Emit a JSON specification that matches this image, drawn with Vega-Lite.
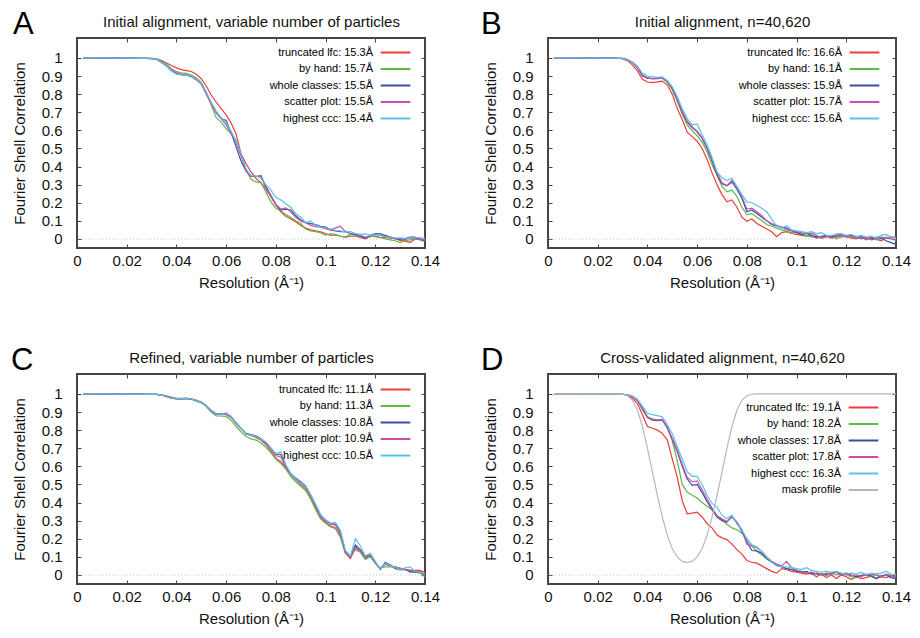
{
"$schema": "https://vega.github.io/schema/vega-lite/v6.json",
"padding": {"left": 10, "top": 7, "right": 5, "bottom": 5},
"background": "white",
"config": {
 "font": "Liberation Sans",
 "view": {"stroke": "#4a4440", "strokeWidth": 2},
 "axis": {"grid": false, "domain": false, "tickSize": -4, "tickColor": "#4a4440", "tickWidth": 1, "labelFont": "Liberation Sans", "labelFontSize": 15, "labelColor": "#111111", "titleFont": "Liberation Sans", "titleFontSize": 15, "titleFontWeight": "normal", "titleColor": "#111111", "labelFlush": false},
 "axisX": {"labelPadding": 9, "titlePadding": 7},
 "axisY": {"labelPadding": 19, "titlePadding": 14},
 "title": {"fontSize": 31, "fontWeight": "normal", "anchor": "start", "frame": "group", "color": "#000000", "font": "Liberation Sans", "baseline": "alphabetic"},
 "legend": {"orient": "none", "legendX": 312, "title": null, "labelFont": "Liberation Sans", "labelFontSize": 11, "labelAlign": "right", "labelOffset": -29, "symbolType": "M-2.7,0H2.7", "symbolSize": 121, "symbolStrokeWidth": 2, "rowPadding": 4.5, "padding": 0, "labelLimit": 300,
  "encode": {"labels": {"update": {"fill": {"signal": "{'r':'#e8262e','g':'#64bd44','b':'#3c4ca6','m':'#cc45a6','c':'#55c6e3','k':'#aaaaaa'}[datum.value]"}}}}}
},
"datasets": {
 "A": [
  {"x":0.0025,"r":1,"g":1,"b":1,"m":1,"c":1},
  {"x":0.01,"r":1,"g":1,"b":1,"m":1,"c":1},
  {"x":0.02,"r":0.999,"g":0.999,"b":0.999,"m":0.999,"c":0.999},
  {"x":0.026,"r":0.998,"g":0.998,"b":0.998,"m":0.998,"c":0.998},
  {"x":0.028,"r":0.998,"g":0.998,"b":0.997,"m":0.997,"c":0.997},
  {"x":0.03,"r":0.998,"g":0.997,"b":0.996,"m":0.996,"c":0.996},
  {"x":0.032,"r":0.995,"g":0.993,"b":0.993,"m":0.993,"c":0.993},
  {"x":0.034,"r":0.985,"g":0.98,"b":0.975,"m":0.975,"c":0.975},
  {"x":0.036,"r":0.972,"g":0.965,"b":0.955,"m":0.958,"c":0.955},
  {"x":0.038,"r":0.958,"g":0.94,"b":0.93,"m":0.935,"c":0.928},
  {"x":0.04,"r":0.945,"g":0.924,"b":0.913,"m":0.917,"c":0.91},
  {"x":0.042,"r":0.935,"g":0.918,"b":0.908,"m":0.91,"c":0.906},
  {"x":0.044,"r":0.93,"g":0.915,"b":0.905,"m":0.907,"c":0.905},
  {"x":0.046,"r":0.925,"g":0.905,"b":0.897,"m":0.897,"c":0.9},
  {"x":0.048,"r":0.91,"g":0.89,"b":0.88,"m":0.88,"c":0.885},
  {"x":0.05,"r":0.885,"g":0.865,"b":0.855,"m":0.855,"c":0.858},
  {"x":0.052,"r":0.845,"g":0.81,"b":0.805,"m":0.8,"c":0.81},
  {"x":0.054,"r":0.795,"g":0.74,"b":0.75,"m":0.745,"c":0.755},
  {"x":0.056,"r":0.755,"g":0.67,"b":0.7,"m":0.695,"c":0.705},
  {"x":0.058,"r":0.72,"g":0.645,"b":0.665,"m":0.665,"c":0.67},
  {"x":0.06,"r":0.685,"g":0.61,"b":0.655,"m":0.63,"c":0.64},
  {"x":0.062,"r":0.64,"g":0.58,"b":0.585,"m":0.585,"c":0.595},
  {"x":0.064,"r":0.58,"g":0.545,"b":0.51,"m":0.53,"c":0.54},
  {"x":0.066,"r":0.47,"g":0.46,"b":0.43,"m":0.46,"c":0.47},
  {"x":0.068,"r":0.415,"g":0.385,"b":0.375,"m":0.38,"c":0.385},
  {"x":0.07,"r":0.37,"g":0.33,"b":0.345,"m":0.348,"c":0.35},
  {"x":0.072,"r":0.335,"g":0.315,"b":0.345,"m":0.345,"c":0.348},
  {"x":0.074,"r":0.31,"g":0.31,"b":0.35,"m":0.345,"c":0.335},
  {"x":0.076,"r":0.275,"g":0.26,"b":0.29,"m":0.28,"c":0.3},
  {"x":0.078,"r":0.235,"g":0.205,"b":0.24,"m":0.235,"c":0.27},
  {"x":0.08,"r":0.19,"g":0.17,"b":0.19,"m":0.19,"c":0.23},
  {"x":0.082,"r":0.15,"g":0.155,"b":0.16,"m":0.165,"c":0.215},
  {"x":0.084,"r":0.125,"g":0.135,"b":0.165,"m":0.172,"c":0.195},
  {"x":0.086,"r":0.11,"g":0.12,"b":0.16,"m":0.15,"c":0.175},
  {"x":0.088,"r":0.095,"g":0.1,"b":0.128,"m":0.12,"c":0.14},
  {"x":0.09,"r":0.075,"g":0.085,"b":0.105,"m":0.1,"c":0.12},
  {"x":0.092,"r":0.06,"g":0.055,"b":0.09,"m":0.09,"c":0.09},
  {"x":0.094,"r":0.05,"g":0.045,"b":0.085,"m":0.075,"c":0.1},
  {"x":0.096,"r":0.045,"g":0.04,"b":0.08,"m":0.068,"c":0.075},
  {"x":0.098,"r":0.04,"g":0.035,"b":0.07,"m":0.065,"c":0.065},
  {"x":0.1,"r":0.03,"g":0.02,"b":0.065,"m":0.055,"c":0.062},
  {"x":0.102,"r":0.02,"g":0.03,"b":0.05,"m":0.05,"c":0.055},
  {"x":0.104,"r":0.022,"g":0.025,"b":0.044,"m":0.06,"c":0.048},
  {"x":0.106,"r":0.015,"g":0.015,"b":0.04,"m":0.07,"c":0.045},
  {"x":0.108,"r":0.01,"g":0.01,"b":0.04,"m":0.04,"c":0.038},
  {"x":0.11,"r":0.015,"g":0.025,"b":0.03,"m":0.03,"c":0.04},
  {"x":0.112,"r":0.015,"g":0.02,"b":0.025,"m":0.028,"c":0.03},
  {"x":0.114,"r":0.008,"g":0.01,"b":0.015,"m":0.02,"c":0.025},
  {"x":0.116,"r":0,"g":0.004,"b":0.004,"m":0.01,"c":0.028},
  {"x":0.118,"r":0.015,"g":0.012,"b":0.02,"m":0.015,"c":0.02},
  {"x":0.12,"r":0.012,"g":0.018,"b":0.03,"m":0.025,"c":0.025},
  {"x":0.122,"r":0.008,"g":0.008,"b":0.028,"m":0.02,"c":0.02},
  {"x":0.124,"r":0.01,"g":0,"b":0.02,"m":0.015,"c":0.012},
  {"x":0.126,"r":0.005,"g":-0.005,"b":0.01,"m":0.01,"c":0.008},
  {"x":0.128,"r":0.002,"g":-0.01,"b":0.002,"m":0.005,"c":0.005},
  {"x":0.13,"r":-0.008,"g":-0.02,"b":-0.002,"m":0.002,"c":0.006},
  {"x":0.132,"r":-0.012,"g":-0.01,"b":0.002,"m":-0.004,"c":0.003},
  {"x":0.134,"r":-0.02,"g":-0.005,"b":0.01,"m":0.006,"c":0.006},
  {"x":0.136,"r":0,"g":0,"b":0.01,"m":0.002,"c":0.008},
  {"x":0.138,"r":0,"g":-0.005,"b":0,"m":-0.004,"c":0.006},
  {"x":0.14,"r":-0.004,"g":-0.007,"b":-0.015,"m":-0.007,"c":0.004}
 ],
 "B": [
  {"x":0.0025,"r":1,"g":1,"b":1,"m":1,"c":1},
  {"x":0.01,"r":1,"g":1,"b":1,"m":1,"c":1},
  {"x":0.02,"r":0.999,"g":0.999,"b":0.999,"m":0.999,"c":0.999},
  {"x":0.026,"r":0.999,"g":0.999,"b":0.999,"m":0.999,"c":0.999},
  {"x":0.028,"r":0.998,"g":0.998,"b":0.998,"m":0.998,"c":0.998},
  {"x":0.03,"r":0.995,"g":0.997,"b":0.997,"m":0.997,"c":0.997},
  {"x":0.032,"r":0.985,"g":0.99,"b":0.99,"m":0.99,"c":0.99},
  {"x":0.034,"r":0.96,"g":0.975,"b":0.975,"m":0.975,"c":0.978},
  {"x":0.036,"r":0.928,"g":0.947,"b":0.947,"m":0.947,"c":0.955},
  {"x":0.038,"r":0.882,"g":0.905,"b":0.9,"m":0.905,"c":0.915},
  {"x":0.04,"r":0.867,"g":0.888,"b":0.888,"m":0.89,"c":0.9},
  {"x":0.042,"r":0.864,"g":0.886,"b":0.885,"m":0.886,"c":0.895},
  {"x":0.044,"r":0.868,"g":0.887,"b":0.886,"m":0.888,"c":0.892},
  {"x":0.046,"r":0.872,"g":0.888,"b":0.89,"m":0.89,"c":0.895},
  {"x":0.048,"r":0.85,"g":0.865,"b":0.87,"m":0.87,"c":0.875},
  {"x":0.05,"r":0.8,"g":0.825,"b":0.83,"m":0.835,"c":0.84},
  {"x":0.052,"r":0.72,"g":0.76,"b":0.77,"m":0.775,"c":0.785},
  {"x":0.054,"r":0.66,"g":0.69,"b":0.7,"m":0.705,"c":0.72},
  {"x":0.056,"r":0.59,"g":0.63,"b":0.645,"m":0.65,"c":0.665},
  {"x":0.058,"r":0.565,"g":0.598,"b":0.615,"m":0.62,"c":0.63},
  {"x":0.06,"r":0.54,"g":0.57,"b":0.592,"m":0.595,"c":0.635},
  {"x":0.062,"r":0.5,"g":0.535,"b":0.555,"m":0.56,"c":0.575},
  {"x":0.064,"r":0.44,"g":0.48,"b":0.5,"m":0.505,"c":0.52},
  {"x":0.066,"r":0.365,"g":0.41,"b":0.43,"m":0.44,"c":0.45},
  {"x":0.068,"r":0.3,"g":0.35,"b":0.355,"m":0.365,"c":0.37},
  {"x":0.07,"r":0.245,"g":0.29,"b":0.305,"m":0.31,"c":0.338},
  {"x":0.072,"r":0.205,"g":0.26,"b":0.293,"m":0.295,"c":0.322},
  {"x":0.074,"r":0.215,"g":0.27,"b":0.315,"m":0.325,"c":0.335},
  {"x":0.076,"r":0.175,"g":0.235,"b":0.275,"m":0.29,"c":0.29},
  {"x":0.078,"r":0.12,"g":0.175,"b":0.225,"m":0.235,"c":0.245},
  {"x":0.08,"r":0.098,"g":0.135,"b":0.15,"m":0.165,"c":0.205},
  {"x":0.082,"r":0.11,"g":0.14,"b":0.16,"m":0.17,"c":0.2},
  {"x":0.084,"r":0.085,"g":0.12,"b":0.14,"m":0.15,"c":0.185},
  {"x":0.086,"r":0.07,"g":0.1,"b":0.12,"m":0.13,"c":0.17},
  {"x":0.088,"r":0.055,"g":0.08,"b":0.1,"m":0.1,"c":0.15},
  {"x":0.09,"r":0.04,"g":0.07,"b":0.08,"m":0.085,"c":0.11},
  {"x":0.092,"r":0.012,"g":0.06,"b":0.07,"m":0.075,"c":0.07},
  {"x":0.094,"r":0.035,"g":0.05,"b":0.065,"m":0.065,"c":0.06},
  {"x":0.096,"r":0.04,"g":0.042,"b":0.06,"m":0.05,"c":0.072},
  {"x":0.098,"r":0.03,"g":0.035,"b":0.045,"m":0.045,"c":0.05},
  {"x":0.1,"r":0.025,"g":0.04,"b":0.035,"m":0.04,"c":0.045},
  {"x":0.102,"r":0.02,"g":0.025,"b":0.025,"m":0.035,"c":0.04},
  {"x":0.104,"r":0.015,"g":0.02,"b":0.03,"m":0.03,"c":0.035},
  {"x":0.106,"r":0.02,"g":0.01,"b":0.02,"m":0.032,"c":0.04},
  {"x":0.108,"r":0.005,"g":0.015,"b":0.01,"m":0.02,"c":0.03},
  {"x":0.11,"r":0.01,"g":0.005,"b":0.015,"m":0.005,"c":0.035},
  {"x":0.112,"r":0.015,"g":0.01,"b":0.02,"m":0.012,"c":0.02},
  {"x":0.114,"r":0.005,"g":0.02,"b":0.01,"m":0.02,"c":0.018},
  {"x":0.116,"r":0.01,"g":0,"b":0.02,"m":0.015,"c":0.03},
  {"x":0.118,"r":0.018,"g":0.01,"b":0.025,"m":0.02,"c":0.028},
  {"x":0.12,"r":0.012,"g":0.015,"b":0.015,"m":0.01,"c":0.02},
  {"x":0.122,"r":0.005,"g":0.01,"b":0.02,"m":0.015,"c":0.025},
  {"x":0.124,"r":0,"g":0.005,"b":0.008,"m":0.01,"c":0.015},
  {"x":0.126,"r":0.01,"g":0.01,"b":0.012,"m":0,"c":0.02},
  {"x":0.128,"r":-0.005,"g":0,"b":0.005,"m":0.008,"c":0.01},
  {"x":0.13,"r":0.01,"g":0.005,"b":0,"m":-0.005,"c":0.015},
  {"x":0.132,"r":0,"g":-0.005,"b":0.01,"m":0,"c":0.005},
  {"x":0.134,"r":-0.01,"g":0,"b":0.005,"m":0.01,"c":0.02},
  {"x":0.136,"r":0.005,"g":0.01,"b":-0.01,"m":0.005,"c":0.025},
  {"x":0.138,"r":0.01,"g":0.005,"b":-0.02,"m":0,"c":0.01},
  {"x":0.14,"r":0.01,"g":-0.01,"b":-0.03,"m":-0.005,"c":0.005}
 ],
 "C": [
  {"x":0.0025,"r":1,"g":1,"b":1,"m":1,"c":1},
  {"x":0.01,"r":1,"g":1,"b":1,"m":1,"c":1},
  {"x":0.02,"r":0.999,"g":0.999,"b":0.999,"m":0.999,"c":0.999},
  {"x":0.026,"r":0.999,"g":0.999,"b":0.999,"m":0.999,"c":0.999},
  {"x":0.028,"r":0.998,"g":0.998,"b":0.998,"m":0.998,"c":0.998},
  {"x":0.03,"r":0.998,"g":0.998,"b":0.998,"m":0.998,"c":0.998},
  {"x":0.032,"r":0.997,"g":0.997,"b":0.997,"m":0.997,"c":0.997},
  {"x":0.034,"r":0.995,"g":0.993,"b":0.993,"m":0.993,"c":0.993},
  {"x":0.036,"r":0.99,"g":0.988,"b":0.985,"m":0.987,"c":0.987},
  {"x":0.038,"r":0.982,"g":0.98,"b":0.976,"m":0.978,"c":0.978},
  {"x":0.04,"r":0.976,"g":0.975,"b":0.972,"m":0.973,"c":0.974},
  {"x":0.042,"r":0.975,"g":0.973,"b":0.973,"m":0.974,"c":0.974},
  {"x":0.044,"r":0.976,"g":0.974,"b":0.975,"m":0.975,"c":0.975},
  {"x":0.046,"r":0.973,"g":0.97,"b":0.972,"m":0.972,"c":0.972},
  {"x":0.048,"r":0.965,"g":0.96,"b":0.963,"m":0.963,"c":0.963},
  {"x":0.05,"r":0.955,"g":0.952,"b":0.952,"m":0.953,"c":0.953},
  {"x":0.052,"r":0.935,"g":0.93,"b":0.935,"m":0.933,"c":0.935},
  {"x":0.054,"r":0.91,"g":0.9,"b":0.905,"m":0.905,"c":0.908},
  {"x":0.056,"r":0.89,"g":0.878,"b":0.887,"m":0.885,"c":0.888},
  {"x":0.058,"r":0.89,"g":0.878,"b":0.888,"m":0.888,"c":0.888},
  {"x":0.06,"r":0.885,"g":0.875,"b":0.893,"m":0.89,"c":0.895},
  {"x":0.062,"r":0.87,"g":0.855,"b":0.875,"m":0.872,"c":0.875},
  {"x":0.064,"r":0.84,"g":0.82,"b":0.84,"m":0.835,"c":0.84},
  {"x":0.066,"r":0.81,"g":0.79,"b":0.81,"m":0.807,"c":0.81},
  {"x":0.068,"r":0.78,"g":0.765,"b":0.782,"m":0.778,"c":0.78},
  {"x":0.07,"r":0.77,"g":0.752,"b":0.775,"m":0.772,"c":0.772},
  {"x":0.072,"r":0.76,"g":0.745,"b":0.768,"m":0.765,"c":0.765},
  {"x":0.074,"r":0.745,"g":0.73,"b":0.752,"m":0.75,"c":0.75},
  {"x":0.076,"r":0.72,"g":0.705,"b":0.73,"m":0.728,"c":0.735},
  {"x":0.078,"r":0.685,"g":0.675,"b":0.7,"m":0.695,"c":0.7},
  {"x":0.08,"r":0.645,"g":0.638,"b":0.668,"m":0.66,"c":0.67},
  {"x":0.082,"r":0.625,"g":0.615,"b":0.665,"m":0.65,"c":0.68},
  {"x":0.084,"r":0.595,"g":0.585,"b":0.6,"m":0.6,"c":0.61},
  {"x":0.086,"r":0.55,"g":0.545,"b":0.56,"m":0.558,"c":0.56},
  {"x":0.088,"r":0.525,"g":0.515,"b":0.535,"m":0.53,"c":0.53},
  {"x":0.09,"r":0.5,"g":0.49,"b":0.515,"m":0.51,"c":0.51},
  {"x":0.092,"r":0.475,"g":0.465,"b":0.49,"m":0.487,"c":0.487},
  {"x":0.094,"r":0.425,"g":0.42,"b":0.44,"m":0.44,"c":0.445},
  {"x":0.096,"r":0.37,"g":0.36,"b":0.385,"m":0.38,"c":0.39},
  {"x":0.098,"r":0.315,"g":0.31,"b":0.33,"m":0.325,"c":0.335},
  {"x":0.1,"r":0.29,"g":0.285,"b":0.3,"m":0.298,"c":0.305},
  {"x":0.102,"r":0.27,"g":0.265,"b":0.285,"m":0.28,"c":0.285},
  {"x":0.104,"r":0.26,"g":0.255,"b":0.28,"m":0.275,"c":0.29},
  {"x":0.106,"r":0.215,"g":0.205,"b":0.235,"m":0.228,"c":0.245},
  {"x":0.108,"r":0.12,"g":0.118,"b":0.128,"m":0.125,"c":0.135},
  {"x":0.11,"r":0.09,"g":0.1,"b":0.1,"m":0.098,"c":0.105},
  {"x":0.112,"r":0.15,"g":0.14,"b":0.165,"m":0.155,"c":0.2},
  {"x":0.114,"r":0.13,"g":0.125,"b":0.14,"m":0.135,"c":0.16},
  {"x":0.116,"r":0.09,"g":0.085,"b":0.1,"m":0.095,"c":0.105},
  {"x":0.118,"r":0.105,"g":0.1,"b":0.115,"m":0.11,"c":0.12},
  {"x":0.12,"r":0.065,"g":0.065,"b":0.07,"m":0.068,"c":0.075},
  {"x":0.122,"r":0.035,"g":0.04,"b":0.03,"m":0.035,"c":0.035},
  {"x":0.124,"r":0.06,"g":0.045,"b":0.07,"m":0.06,"c":0.065},
  {"x":0.126,"r":0.05,"g":0.045,"b":0.055,"m":0.05,"c":0.05},
  {"x":0.128,"r":0.045,"g":0.045,"b":0.035,"m":0.04,"c":0.04},
  {"x":0.13,"r":0.038,"g":0.035,"b":0.028,"m":0.03,"c":0.028},
  {"x":0.132,"r":0.032,"g":0.03,"b":0.03,"m":0.03,"c":0.04},
  {"x":0.134,"r":0.025,"g":0.015,"b":0.02,"m":0.025,"c":0.045},
  {"x":0.136,"r":0.025,"g":0.015,"b":0.015,"m":0.02,"c":0.02},
  {"x":0.138,"r":0.025,"g":0.01,"b":0.015,"m":0.018,"c":0.015},
  {"x":0.14,"r":0.015,"g":-0.012,"b":0,"m":0.005,"c":0.005}
 ],
 "D": [
  {"x":0.0025,"r":1,"g":1,"b":1,"m":1,"c":1,"k":1},
  {"x":0.01,"r":1,"g":1,"b":1,"m":1,"c":1,"k":1},
  {"x":0.02,"r":0.999,"g":0.999,"b":0.999,"m":0.999,"c":0.999,"k":1},
  {"x":0.026,"r":0.999,"g":0.999,"b":0.999,"m":0.999,"c":0.999,"k":1},
  {"x":0.028,"r":0.999,"g":0.999,"b":0.999,"m":0.999,"c":0.999,"k":1},
  {"x":0.03,"r":0.998,"g":0.998,"b":0.998,"m":0.998,"c":0.998,"k":0.998},
  {"x":0.032,"r":0.993,"g":0.995,"b":0.995,"m":0.995,"c":0.995,"k":0.99},
  {"x":0.034,"r":0.975,"g":0.985,"b":0.985,"m":0.985,"c":0.987,"k":0.965},
  {"x":0.036,"r":0.945,"g":0.967,"b":0.962,"m":0.962,"c":0.97,"k":0.91},
  {"x":0.038,"r":0.885,"g":0.912,"b":0.92,"m":0.922,"c":0.933,"k":0.82},
  {"x":0.04,"r":0.82,"g":0.874,"b":0.869,"m":0.872,"c":0.893,"k":0.7},
  {"x":0.042,"r":0.81,"g":0.862,"b":0.855,"m":0.858,"c":0.886,"k":0.57},
  {"x":0.044,"r":0.8,"g":0.857,"b":0.852,"m":0.855,"c":0.88,"k":0.44},
  {"x":0.046,"r":0.782,"g":0.856,"b":0.856,"m":0.86,"c":0.874,"k":0.32},
  {"x":0.048,"r":0.745,"g":0.82,"b":0.81,"m":0.815,"c":0.83,"k":0.22},
  {"x":0.05,"r":0.64,"g":0.74,"b":0.75,"m":0.755,"c":0.78,"k":0.145},
  {"x":0.052,"r":0.54,"g":0.63,"b":0.68,"m":0.69,"c":0.71,"k":0.1},
  {"x":0.054,"r":0.41,"g":0.5,"b":0.6,"m":0.61,"c":0.64,"k":0.075},
  {"x":0.056,"r":0.338,"g":0.458,"b":0.53,"m":0.54,"c":0.57,"k":0.068},
  {"x":0.058,"r":0.342,"g":0.44,"b":0.495,"m":0.515,"c":0.545,"k":0.075},
  {"x":0.06,"r":0.347,"g":0.425,"b":0.5,"m":0.52,"c":0.545,"k":0.1},
  {"x":0.062,"r":0.32,"g":0.4,"b":0.455,"m":0.47,"c":0.5,"k":0.145},
  {"x":0.064,"r":0.283,"g":0.38,"b":0.405,"m":0.42,"c":0.44,"k":0.22},
  {"x":0.066,"r":0.26,"g":0.36,"b":0.36,"m":0.37,"c":0.395,"k":0.32},
  {"x":0.068,"r":0.22,"g":0.33,"b":0.32,"m":0.325,"c":0.375,"k":0.44},
  {"x":0.07,"r":0.205,"g":0.305,"b":0.3,"m":0.31,"c":0.33,"k":0.57},
  {"x":0.072,"r":0.195,"g":0.28,"b":0.292,"m":0.295,"c":0.31,"k":0.7},
  {"x":0.074,"r":0.17,"g":0.26,"b":0.325,"m":0.32,"c":0.33,"k":0.82},
  {"x":0.076,"r":0.14,"g":0.25,"b":0.29,"m":0.29,"c":0.28,"k":0.91},
  {"x":0.078,"r":0.115,"g":0.23,"b":0.24,"m":0.25,"c":0.25,"k":0.965},
  {"x":0.08,"r":0.08,"g":0.2,"b":0.185,"m":0.17,"c":0.2,"k":0.99},
  {"x":0.082,"r":0.07,"g":0.16,"b":0.135,"m":0.16,"c":0.166,"k":0.998},
  {"x":0.084,"r":0.065,"g":0.13,"b":0.133,"m":0.15,"c":0.155,"k":1},
  {"x":0.086,"r":0.05,"g":0.11,"b":0.12,"m":0.13,"c":0.13,"k":1},
  {"x":0.088,"r":0.035,"g":0.09,"b":0.09,"m":0.1,"c":0.1,"k":1},
  {"x":0.09,"r":0.02,"g":0.07,"b":0.07,"m":0.075,"c":0.07,"k":1},
  {"x":0.092,"r":0.01,"g":0.055,"b":0.055,"m":0.06,"c":0.05,"k":1},
  {"x":0.094,"r":0.035,"g":0.045,"b":0.045,"m":0.05,"c":0.045,"k":1},
  {"x":0.096,"r":0.03,"g":0.035,"b":0.035,"m":0.075,"c":0.045,"k":1},
  {"x":0.098,"r":0.02,"g":0.03,"b":0.03,"m":0.04,"c":0.04,"k":1},
  {"x":0.1,"r":0.015,"g":0.025,"b":0.02,"m":0.025,"c":0.035,"k":1},
  {"x":0.102,"r":0.01,"g":0.02,"b":0.015,"m":0.015,"c":0.03,"k":1},
  {"x":0.104,"r":0.005,"g":0.015,"b":0.02,"m":0.01,"c":0.04,"k":1},
  {"x":0.106,"r":0.01,"g":0.01,"b":0.005,"m":0.015,"c":0.025,"k":1},
  {"x":0.108,"r":-0.01,"g":0.005,"b":0.01,"m":0.005,"c":0.02,"k":1},
  {"x":0.11,"r":0.005,"g":0.01,"b":0,"m":0,"c":0.015,"k":1},
  {"x":0.112,"r":-0.015,"g":-0.005,"b":0.005,"m":0.01,"c":0.02,"k":1},
  {"x":0.114,"r":0,"g":0.01,"b":0.01,"m":0.005,"c":0.015,"k":1},
  {"x":0.116,"r":-0.02,"g":0,"b":0.015,"m":0.015,"c":0.02,"k":1},
  {"x":0.118,"r":0,"g":0.005,"b":0.005,"m":0,"c":0.01,"k":1},
  {"x":0.12,"r":-0.01,"g":0,"b":0.01,"m":0.005,"c":0.005,"k":1},
  {"x":0.122,"r":-0.025,"g":-0.01,"b":0,"m":-0.005,"c":0.01,"k":1},
  {"x":0.124,"r":-0.01,"g":-0.015,"b":-0.01,"m":0,"c":0.005,"k":1},
  {"x":0.126,"r":-0.02,"g":0,"b":-0.005,"m":-0.01,"c":0.015,"k":1},
  {"x":0.128,"r":-0.015,"g":0.005,"b":0,"m":0.005,"c":0,"k":1},
  {"x":0.13,"r":-0.005,"g":-0.01,"b":-0.005,"m":0,"c":0.01,"k":1},
  {"x":0.132,"r":-0.02,"g":0,"b":-0.02,"m":0.005,"c":0.005,"k":1},
  {"x":0.134,"r":-0.01,"g":-0.015,"b":-0.005,"m":-0.01,"c":0.01,"k":1},
  {"x":0.136,"r":-0.015,"g":0.005,"b":0,"m":0,"c":0.02,"k":1},
  {"x":0.138,"r":-0.005,"g":0,"b":-0.015,"m":-0.005,"c":0.005,"k":1},
  {"x":0.14,"r":-0.005,"g":-0.02,"b":-0.02,"m":-0.01,"c":0,"k":1}
 ]
},
"bounds": "flush",
"columns": 2,
"spacing": {"row": 126, "column": 123},
"concat": [
  {"width": 348, "height": 210,
   "title": {"text": "A", "dx": -64, "dy": 30},
   "data": {"name": "A"},
   "layer": [
    {"data": {"values": [{}]}, "mark": {"type": "rule", "color": "#b4c4d4", "strokeDash": [1, 2], "strokeWidth": 1}, "encoding": {"y": {"datum": 0, "type": "quantitative", "scale": {"domain": [-0.05, 1.11], "nice": false, "zero": false}, "axis": null}}},
    {"transform": [{"fold": ["r", "g", "b", "m", "c"], "as": ["s", "v"]}],
     "mark": {"type": "line", "strokeWidth": 1.2},
     "encoding": {
      "x": {"field": "x", "type": "quantitative", "scale": {"domain": [0, 0.14], "nice": false, "zero": false}, "axis": {"orient": "bottom", "values": [0, 0.02, 0.04, 0.06, 0.08, 0.1, 0.12, 0.14], "format": ".2~f", "title": "Resolution (Å⁻¹)"}},
      "y": {"field": "v", "type": "quantitative", "scale": {"domain": [-0.05, 1.11], "nice": false, "zero": false}, "axis": {"orient": "left", "values": [0, 0.1, 0.2, 0.3, 0.4, 0.5, 0.6, 0.7, 0.8, 0.9, 1], "format": ".1~f", "title": "Fourier Shell Correlation"}},
      "color": {"field": "s", "type": "nominal", "scale": {"domain": ["r", "g", "b", "m", "c"], "range": ["#ee3b3b", "#5dbb45", "#3b4ea6", "#cc4fae", "#56c4e2"]},
       "legend": {"legendY": 8, "labelExpr": "{'r':'truncated lfc: 15.3Å','g':'by hand: 15.7Å','b':'whole classes: 15.5Å','m':'scatter plot: 15.5Å','c':'highest ccc: 15.4Å'}[datum.value]"}}
     }},
    {"mark": {"type": "line", "opacity": 0},
     "encoding": {
      "x": {"field": "x", "type": "quantitative", "scale": {"domain": [0, 0.14], "nice": false, "zero": false}, "axis": {"orient": "top", "values": [0, 0.02, 0.04, 0.06, 0.08, 0.1, 0.12, 0.14], "labels": false, "title": "Initial alignment, variable number of particles", "titlePadding": 8}},
      "y": {"field": "r", "type": "quantitative", "scale": {"domain": [-0.05, 1.11], "nice": false, "zero": false}, "axis": {"orient": "right", "values": [0, 0.1, 0.2, 0.3, 0.4, 0.5, 0.6, 0.7, 0.8, 0.9, 1], "labels": false, "title": null}}
     }}
   ],
   "resolve": {"axis": {"x": "independent", "y": "independent"}}
  },
  {"width": 348, "height": 210,
   "title": {"text": "B", "dx": -67, "dy": 30},
   "data": {"name": "B"},
   "layer": [
    {"data": {"values": [{}]}, "mark": {"type": "rule", "color": "#b4c4d4", "strokeDash": [1, 2], "strokeWidth": 1}, "encoding": {"y": {"datum": 0, "type": "quantitative", "scale": {"domain": [-0.05, 1.11], "nice": false, "zero": false}, "axis": null}}},
    {"transform": [{"fold": ["r", "g", "b", "m", "c"], "as": ["s", "v"]}],
     "mark": {"type": "line", "strokeWidth": 1.2},
     "encoding": {
      "x": {"field": "x", "type": "quantitative", "scale": {"domain": [0, 0.14], "nice": false, "zero": false}, "axis": {"orient": "bottom", "values": [0, 0.02, 0.04, 0.06, 0.08, 0.1, 0.12, 0.14], "format": ".2~f", "title": "Resolution (Å⁻¹)"}},
      "y": {"field": "v", "type": "quantitative", "scale": {"domain": [-0.05, 1.11], "nice": false, "zero": false}, "axis": {"orient": "left", "values": [0, 0.1, 0.2, 0.3, 0.4, 0.5, 0.6, 0.7, 0.8, 0.9, 1], "format": ".1~f", "title": "Fourier Shell Correlation"}},
      "color": {"field": "s", "type": "nominal", "scale": {"domain": ["r", "g", "b", "m", "c"], "range": ["#ee3b3b", "#5dbb45", "#3b4ea6", "#cc4fae", "#56c4e2"]},
       "legend": {"legendY": 8, "legendX": 310, "labelExpr": "{'r':'truncated lfc: 16.6Å','g':'by hand: 16.1Å','b':'whole classes: 15.9Å','m':'scatter plot: 15.7Å','c':'highest ccc: 15.6Å'}[datum.value]"}}
     }},
    {"mark": {"type": "line", "opacity": 0},
     "encoding": {
      "x": {"field": "x", "type": "quantitative", "scale": {"domain": [0, 0.14], "nice": false, "zero": false}, "axis": {"orient": "top", "values": [0, 0.02, 0.04, 0.06, 0.08, 0.1, 0.12, 0.14], "labels": false, "title": "Initial alignment, n=40,620", "titlePadding": 8}},
      "y": {"field": "r", "type": "quantitative", "scale": {"domain": [-0.05, 1.11], "nice": false, "zero": false}, "axis": {"orient": "right", "values": [0, 0.1, 0.2, 0.3, 0.4, 0.5, 0.6, 0.7, 0.8, 0.9, 1], "labels": false, "title": null}}
     }}
   ],
   "resolve": {"axis": {"x": "independent", "y": "independent"}}
  },
  {"width": 348, "height": 210,
   "title": {"text": "C", "dx": -66, "dy": 30},
   "data": {"name": "C"},
   "layer": [
    {"data": {"values": [{}]}, "mark": {"type": "rule", "color": "#b4c4d4", "strokeDash": [1, 2], "strokeWidth": 1}, "encoding": {"y": {"datum": 0, "type": "quantitative", "scale": {"domain": [-0.05, 1.11], "nice": false, "zero": false}, "axis": null}}},
    {"transform": [{"fold": ["r", "g", "b", "m", "c"], "as": ["s", "v"]}],
     "mark": {"type": "line", "strokeWidth": 1.2},
     "encoding": {
      "x": {"field": "x", "type": "quantitative", "scale": {"domain": [0, 0.14], "nice": false, "zero": false}, "axis": {"orient": "bottom", "values": [0, 0.02, 0.04, 0.06, 0.08, 0.1, 0.12, 0.14], "format": ".2~f", "title": "Resolution (Å⁻¹)"}},
      "y": {"field": "v", "type": "quantitative", "scale": {"domain": [-0.05, 1.11], "nice": false, "zero": false}, "axis": {"orient": "left", "values": [0, 0.1, 0.2, 0.3, 0.4, 0.5, 0.6, 0.7, 0.8, 0.9, 1], "format": ".1~f", "title": "Fourier Shell Correlation"}},
      "color": {"field": "s", "type": "nominal", "scale": {"domain": ["r", "g", "b", "m", "c"], "range": ["#ee3b3b", "#5dbb45", "#3b4ea6", "#cc4fae", "#56c4e2"]},
       "legend": {"legendY": 9, "labelExpr": "{'r':'truncated lfc: 11.1Å','g':'by hand: 11.3Å','b':'whole classes: 10.8Å','m':'scatter plot: 10.9Å','c':'highest ccc: 10.5Å'}[datum.value]"}}
     }},
    {"mark": {"type": "line", "opacity": 0},
     "encoding": {
      "x": {"field": "x", "type": "quantitative", "scale": {"domain": [0, 0.14], "nice": false, "zero": false}, "axis": {"orient": "top", "values": [0, 0.02, 0.04, 0.06, 0.08, 0.1, 0.12, 0.14], "labels": false, "title": "Refined, variable number of particles", "titlePadding": 8}},
      "y": {"field": "r", "type": "quantitative", "scale": {"domain": [-0.05, 1.11], "nice": false, "zero": false}, "axis": {"orient": "right", "values": [0, 0.1, 0.2, 0.3, 0.4, 0.5, 0.6, 0.7, 0.8, 0.9, 1], "labels": false, "title": null}}
     }}
   ],
   "resolve": {"axis": {"x": "independent", "y": "independent"}}
  },
  {"width": 348, "height": 210,
   "title": {"text": "D", "dx": -67, "dy": 30},
   "data": {"name": "D"},
   "layer": [
    {"data": {"values": [{}]}, "mark": {"type": "rule", "color": "#b4c4d4", "strokeDash": [1, 2], "strokeWidth": 1}, "encoding": {"y": {"datum": 0, "type": "quantitative", "scale": {"domain": [-0.05, 1.11], "nice": false, "zero": false}, "axis": null}}},
    {"transform": [{"fold": ["r", "g", "b", "m", "c", "k"], "as": ["s", "v"]}],
     "mark": {"type": "line", "strokeWidth": 1.2},
     "encoding": {
      "x": {"field": "x", "type": "quantitative", "scale": {"domain": [0, 0.14], "nice": false, "zero": false}, "axis": {"orient": "bottom", "values": [0, 0.02, 0.04, 0.06, 0.08, 0.1, 0.12, 0.14], "format": ".2~f", "title": "Resolution (Å⁻¹)"}},
      "y": {"field": "v", "type": "quantitative", "scale": {"domain": [-0.05, 1.11], "nice": false, "zero": false}, "axis": {"orient": "left", "values": [0, 0.1, 0.2, 0.3, 0.4, 0.5, 0.6, 0.7, 0.8, 0.9, 1], "format": ".1~f", "title": "Fourier Shell Correlation"}},
      "color": {"field": "s", "type": "nominal", "scale": {"domain": ["r", "g", "b", "m", "c", "k"], "range": ["#ee3b3b", "#5dbb45", "#3b4ea6", "#cc4fae", "#56c4e2", "#b8b8b8"]},
       "legend": {"legendY": 27, "legendX": 309, "labelExpr": "{'r':'truncated lfc: 19.1Å','g':'by hand: 18.2Å','b':'whole classes: 17.8Å','m':'scatter plot: 17.8Å','c':'highest ccc: 16.3Å','k':'mask profile'}[datum.value]"}}
     }},
    {"mark": {"type": "line", "opacity": 0},
     "encoding": {
      "x": {"field": "x", "type": "quantitative", "scale": {"domain": [0, 0.14], "nice": false, "zero": false}, "axis": {"orient": "top", "values": [0, 0.02, 0.04, 0.06, 0.08, 0.1, 0.12, 0.14], "labels": false, "title": "Cross-validated alignment, n=40,620", "titlePadding": 8}},
      "y": {"field": "r", "type": "quantitative", "scale": {"domain": [-0.05, 1.11], "nice": false, "zero": false}, "axis": {"orient": "right", "values": [0, 0.1, 0.2, 0.3, 0.4, 0.5, 0.6, 0.7, 0.8, 0.9, 1], "labels": false, "title": null}}
     }}
   ],
   "resolve": {"axis": {"x": "independent", "y": "independent"}}
  }
],
"resolve": {"scale": {"color": "independent"}, "legend": {"color": "independent"}}
}
